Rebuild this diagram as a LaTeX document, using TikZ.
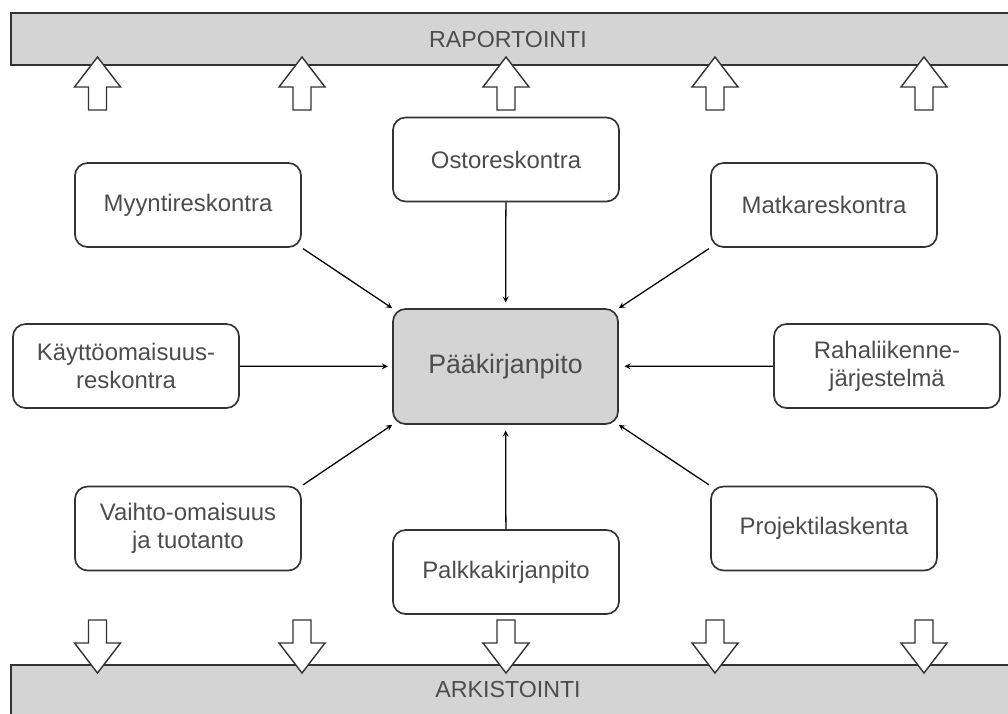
\documentclass[tikz,border=0pt]{standalone}
\usepackage{fontspec}
\setmainfont{Liberation Sans}
\usepackage{xcolor}
\tikzstyle{box} = [rectangle, rounded corners=9pt, draw=black!80, line width=1.2pt, minimum width=5.65cm, minimum height=2.1cm, align=center, text=black!70, font=\fontsize{17}{20}\selectfont]
\tikzstyle{mainbox} = [box, fill=barfill, minimum width=5.625cm, minimum height=2.875cm, font=\fontsize{19}{23}\selectfont]
\tikzstyle{bar} = [draw=black!80, line width=1.2pt, fill=barfill]
\tikzstyle{bartext} = [text=black!70, font=\fontsize{16.5}{20}\selectfont]
\tikzstyle{feed} = [line width=0.9pt, ->, >=stealth]
\tikzstyle{blockarrow} = [draw=black!80, line width=1pt, fill=white]
\definecolor{barfill}{rgb}{0.83, 0.83, 0.83}

\begin{document}
\begin{tikzpicture}[x=0.025cm, y=-0.025cm]
    \useasboundingbox (0,0) rectangle (1008,713);
    \clip (0,0) rectangle (1008,713);

    % bars
    \draw [bar] (11,13) rectangle (1030,65);
    \node (rap) [bartext] at (508,40) {RAPORTOINTI};
    \draw [bar] (11,665) rectangle (1030,730);
    \node (ark) [bartext] at (508,690) {ARKISTOINTI};

    % block arrows
    \foreach \x in {97.5,302,506,715,924} {
        \draw [blockarrow] (\x-9,110) -- (\x-9,87) -- (\x-23,87) -- (\x,57) -- (\x+23,87) -- (\x+9,87) -- (\x+9,110) -- cycle;
        \draw [blockarrow] (\x-9,620) -- (\x-9,643) -- (\x-23,643) -- (\x,673) -- (\x+23,643) -- (\x+9,643) -- (\x+9,620) -- cycle;
    }

    \node (paa) [mainbox] at (505.5,366.5) {Pääkirjanpito};

    \node (osto) [box] at (506,159.5) {Ostoreskontra};
    \node (myy) [box] at (188,205) {Myyntireskontra};
    \node (matka) [box] at (824,205) {Matkareskontra};
    \node (kay) [box] at (126,366) {Käyttöomaisuus-\\reskontra};
    \node (raha) [box] at (887,366) {Rahaliikenne-\\järjestelmä};
    \node (vaihto) [box] at (188,528.5) {Vaihto-omaisuus\\ja tuotanto};
    \node (palkka) [box] at (506,572) {Palkkakirjanpito};
    \node (proj) [box] at (824,528.5) {Projektilaskenta};

    \draw [feed, shorten >=4pt] (osto) -- (paa);
    \draw [feed, shorten >=4pt] (palkka) -- (paa);
    \draw [feed, shorten >=3pt] (kay) -- (paa);
    \draw [feed, shorten >=4pt] (raha) -- (paa);
    \draw [feed, shorten <=1pt] (myy.south east) -- (paa.north west);
    \draw [feed, shorten <=1pt] (matka.south west) -- (paa.north east);
    \draw [feed, shorten <=1pt] (vaihto.north east) -- (paa.south west);
    \draw [feed, shorten <=1pt] (proj.north west) -- (paa.south east);
\end{tikzpicture}
\end{document}
